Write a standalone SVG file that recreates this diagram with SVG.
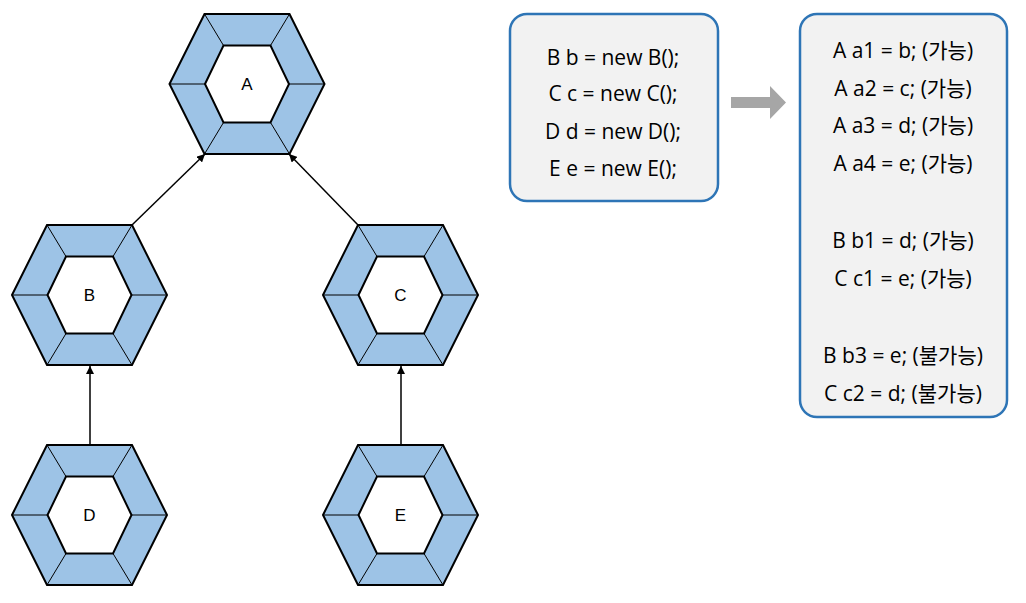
<svg xmlns="http://www.w3.org/2000/svg" xmlns:xlink="http://www.w3.org/1999/xlink" width="1026" height="603" viewBox="0 0 1026 603">
<style>
.outer{fill:#9DC3E6;stroke:#000;stroke-width:2;stroke-linejoin:miter}
.inner{fill:#fff;stroke:#000;stroke-width:2}
.div{stroke:#000;stroke-width:1;fill:none}
.lbl{font-family:"Liberation Sans",Arial,sans-serif;font-size:17px;fill:#000;text-anchor:middle}
.edge{stroke:#000;stroke-width:1.5;fill:none}
.box{fill:#F2F2F2;stroke:#2E75B6;stroke-width:2.5}
.code{font-family:"Open Sans","Noto Sans CJK KR",sans-serif;font-size:21px;fill:#000;text-anchor:middle}
</style>
<defs>
<g id="hex">
<polygon class="outer" points="-77.5,0 -42.5,-70 42.5,-70 77.5,0 42.5,70 -42.5,70"/>
<path class="div" d="M-77.5,0H-42M77.5,0H42M-42.5,-70L-23.5,-38.5M42.5,-70L23.5,-38.5M-42.5,70L-23.5,38.5M42.5,70L23.5,38.5"/>
<polygon class="inner" points="-42,0 -23.5,-38.5 23.5,-38.5 42,0 23.5,38.5 -23.5,38.5"/>
</g>
<marker id="ah" viewBox="0 0 10 10" refX="10" refY="5" markerWidth="8" markerHeight="8" markerUnits="userSpaceOnUse" orient="auto">
<path d="M0,0L10,5L0,10z" fill="#000"/>
</marker>
</defs>
<g id="connectors">
<line class="edge" x1="132" y1="225" x2="205" y2="154" marker-end="url(#ah)"/>
<line class="edge" x1="358" y1="225" x2="289" y2="154" marker-end="url(#ah)"/>
<line class="edge" x1="90" y1="445" x2="90" y2="366" marker-end="url(#ah)"/>
<line class="edge" x1="401" y1="445" x2="401" y2="366" marker-end="url(#ah)"/>
</g>
<g id="A"><use xlink:href="#hex" href="#hex" transform="translate(247,84)"/><text class="lbl" x="247" y="90">A</text></g>
<g id="B"><use xlink:href="#hex" href="#hex" transform="translate(89.5,295)"/><text class="lbl" x="89.5" y="301">B</text></g>
<g id="C"><use xlink:href="#hex" href="#hex" transform="translate(400.5,295)"/><text class="lbl" x="400.5" y="301">C</text></g>
<g id="D"><use xlink:href="#hex" href="#hex" transform="translate(89.5,515)"/><text class="lbl" x="89.5" y="521">D</text></g>
<g id="E"><use xlink:href="#hex" href="#hex" transform="translate(400.5,515)"/><text class="lbl" x="400.5" y="521">E</text></g>
<g id="decl">
<rect class="box" x="510" y="14" width="208" height="187" rx="17"/>
<text class="code" x="613" y="64.5">B b = new B();</text>
<text class="code" x="613" y="100.5">C c = new C();</text>
<text class="code" x="613" y="138.5">D d = new D();</text>
<text class="code" x="613" y="175.5">E e = new E();</text>
</g>
<g id="arrow">
<polygon points="731,97 770,97 770,86 786,102.5 770,119 770,108 731,108" fill="#A6A6A6"/>
</g>
<g id="result">
<rect class="box" x="800" y="14" width="207" height="403" rx="17"/>
<text class="code" x="903" y="57.5">A a1 = b; (가능)</text>
<text class="code" x="903" y="95.5">A a2 = c; (가능)</text>
<text class="code" x="903" y="132.5">A a3 = d; (가능)</text>
<text class="code" x="903" y="170.5">A a4 = e; (가능)</text>
<text class="code" x="903" y="247.5">B b1 = d; (가능)</text>
<text class="code" x="903" y="285.5">C c1 = e; (가능)</text>
<text class="code" x="903" y="362.5">B b3 = e; (불가능)</text>
<text class="code" x="903" y="400.5">C c2 = d; (불가능)</text>
</g>
</svg>
